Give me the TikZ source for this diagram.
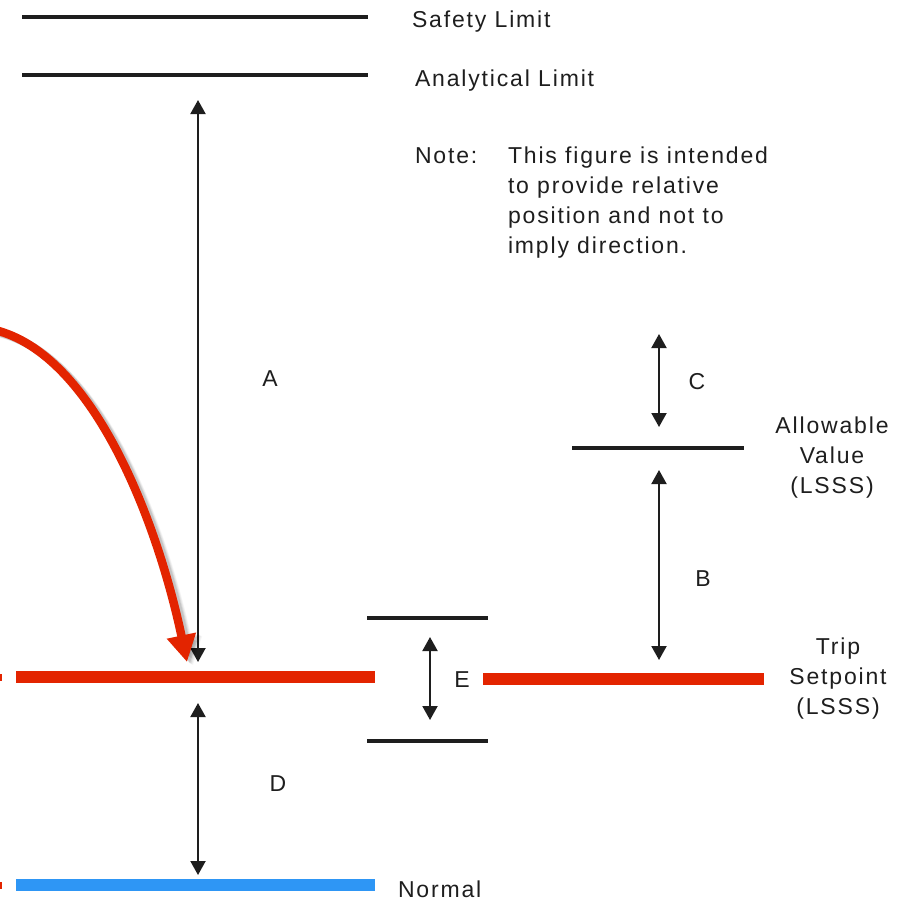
\documentclass[tikz,border=0pt]{standalone}
\usepackage{fontspec}
\setmainfont{Liberation Sans}[LetterSpace=8]
\usetikzlibrary{arrows.meta}
\definecolor{lred}{HTML}{E32400}
\definecolor{lblue}{HTML}{2E96F5}
\definecolor{lblack}{HTML}{1E1E1E}
\tikzset{
  lvl/.style={draw=lblack, line width=3.5pt},
  redlvl/.style={draw=lred, line width=12pt},
  bluelvl/.style={draw=lblue, line width=12pt},
  dim/.style={draw=lblack, line width=2pt, {Triangle[length=14pt,width=15pt]}-{Triangle[length=14pt,width=15pt]}},
  lbl/.style={font=\fontsize{23}{30}\selectfont, text=lblack, inner sep=0pt, outer sep=0pt},
}
\begin{document}
\begin{tikzpicture}[x=1pt,y=-1pt]
\useasboundingbox (0,0) rectangle (907,903);
% levels
\coordinate (sl1) at (22,17); \coordinate (sl2) at (368,17);
\coordinate (al1) at (22,75); \coordinate (al2) at (368,75);
\draw[lvl] (sl1) -- (sl2);
\draw[lvl] (al1) -- (al2);
\coordinate (tr1) at (16,677); \coordinate (tr2) at (375,677);
\coordinate (tr3) at (483,679); \coordinate (tr4) at (764,679);
\draw[redlvl] (tr1) -- (tr2);
\draw[redlvl] (tr3) -- (tr4);
\coordinate (nm1) at (16,885); \coordinate (nm2) at (375,885);
\draw[bluelvl] (nm1) -- (nm2);
\coordinate (eu1) at (367,618); \coordinate (eu2) at (488,618);
\coordinate (el1) at (367,741); \coordinate (el2) at (488,741);
\draw[lvl] (eu1) -- (eu2);
\draw[lvl] (el1) -- (el2);
\coordinate (av1) at (572,448); \coordinate (av2) at (744,448);
\draw[lvl] (av1) -- (av2);
% tiny red marks at left edge
\fill[lred] (0,674) rectangle (2,681);
\fill[lred] (0,882) rectangle (2,889);
% dimension arrows
\coordinate (a1) at (198,100); \coordinate (a2) at (198,662);
\draw[dim] (a1) -- (a2);
\coordinate (d1) at (198,703); \coordinate (d2) at (198,875);
\draw[dim] (d1) -- (d2);
\coordinate (e1) at (430,637); \coordinate (e2) at (430,720);
\draw[dim] (e1) -- (e2);
\coordinate (c1) at (659,334); \coordinate (c2) at (659,427);
\draw[dim] (c1) -- (c2);
\coordinate (b1) at (659,470); \coordinate (b2) at (659,660);
\draw[dim] (b1) -- (b2);
% red curved arrow with soft shadow
\coordinate (rs) at (-5,330); \coordinate (rt) at (187,662);
\foreach \o/\op in {6/0.04,5/0.05,4/0.07,3/0.09} {
  \draw[line width=8.5pt, black, opacity=\op, -{Triangle[length=27pt,width=28pt]}]
    ([shift={(\o,\o*0.6)}]rs) .. controls ([shift={(\o,\o*0.6)}]95,355) and ([shift={(\o,\o*0.6)}]158,525) .. ([shift={(\o,\o*0.6)}]rt);
}
\draw[line width=8.5pt, lred, -{Triangle[length=27pt,width=28pt]}]
  (rs) .. controls (95,355) and (158,525) .. (rt);
% labels
\node[lbl, anchor=base west] (tsl) at (412,27) {Safety Limit};
\node[lbl, anchor=base west] (tal) at (415,86) {Analytical Limit};
\node[lbl, anchor=base west] (tnote) at (415,163) {Note:};
\node[lbl, anchor=base west] (tnt) at (508,163) {This figure is intended};
\node[lbl, anchor=base west] (tnt2) at (508,193) {to provide relative};
\node[lbl, anchor=base west] (tnt3) at (508,223) {position and not to};
\node[lbl, anchor=base west] (tnt4) at (508,253) {imply direction.};
\node[lbl, anchor=base] (tA) at (270,386) {A};
\node[lbl, anchor=base] (tC) at (697,389) {C};
\node[lbl, anchor=base] (tB) at (703,586) {B};
\node[lbl, anchor=base] (tE) at (462,687) {E};
\node[lbl, anchor=base] (tD) at (278,791) {D};
\node[lbl, anchor=base west] (tN) at (398,897) {Normal};
\node[lbl, align=center] (tAV) at (832,458) {Allowable\\Value\\(LSSS)};
\node[lbl, align=center] (tTS) at (838,679) {Trip\\Setpoint\\(LSSS)};
\end{tikzpicture}
\end{document}
